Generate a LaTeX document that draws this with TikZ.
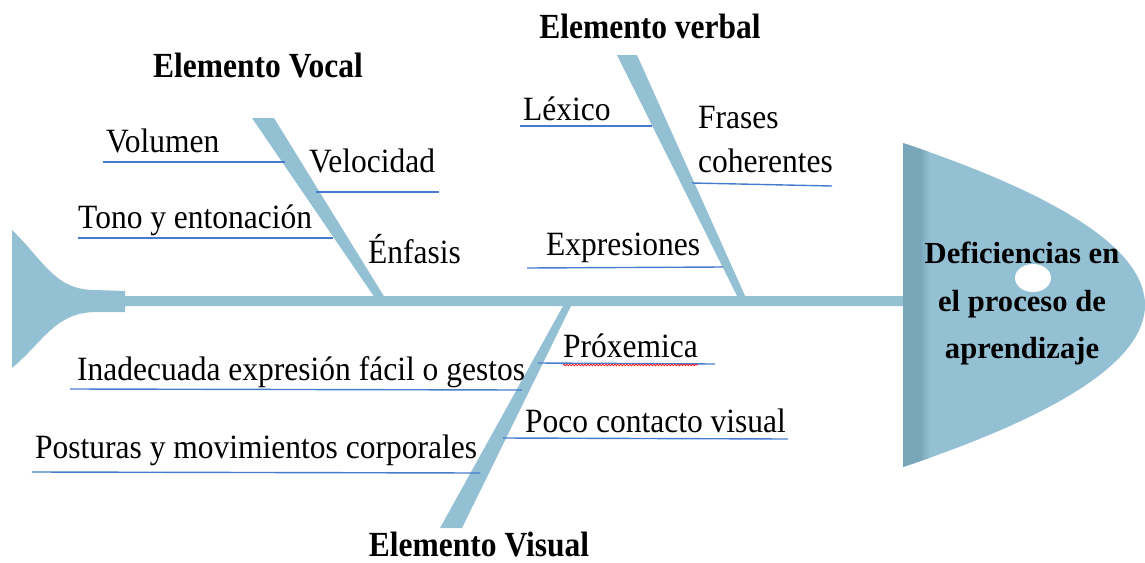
\documentclass[tikz,border=0pt]{standalone}
\usepackage{fontspec}
\setmainfont{Liberation Serif}
\usetikzlibrary{decorations.pathmorphing}
\definecolor{fishblue}{RGB}{148,192,212}
\definecolor{finblue}{RGB}{122,166,186}
\definecolor{lineblue}{RGB}{70,124,206}

\begin{document}
\begin{tikzpicture}[x=1pt,y=-1pt,
        bone/.style={fill=fishblue,draw=none},
        cause/.style={draw=lineblue,line width=1.4pt},
        lbl/.style={anchor=base west,inner sep=0pt,yscale=1.08,transform shape,
                font=\fontsize{31.5}{36}\selectfont},
        ttl/.style={anchor=base,inner sep=0pt,yscale=1.12,transform shape,
                font=\fontsize{31.5}{36}\selectfont\bfseries},
        head/.style={anchor=base,inner sep=0pt,
                font=\fontsize{30.6}{36}\selectfont\bfseries}]
    \useasboundingbox (0,0) rectangle (1145,562);

    % tail and spine
    \fill[bone] (12,230) .. controls (45,262) and (55,290) .. (95,290)
        -- (125,291) -- (125,296) -- (905,296) -- (905,306) -- (125,306)
        -- (125,312) -- (95,312) .. controls (55,313) and (45,340) .. (12,368)
        -- cycle;

    % head
    \fill[bone] (903,143) .. controls (1064,197) and (1145,251) .. (1145,305)
        .. controls (1145,359) and (1064,413) .. (903,467) -- cycle;
    \begin{scope}
        \clip (903,143) .. controls (1064,197) and (1145,251) .. (1145,305)
            .. controls (1145,359) and (1064,413) .. (903,467) -- cycle;
        \fill[finblue] (903,130) rectangle (920,480);
        \shade[left color=finblue,right color=fishblue] (920,130) rectangle (930,480);
    \end{scope}
    \fill[white] (1033,278) ellipse [x radius=18pt,y radius=14pt];
    \node[head] (efecto1) at (1022,263) {Deficiencias en};
    \node[head] (efecto2) at (1022,311) {el proceso de};
    \node[head] (efecto3) at (1022,358) {aprendizaje};

    % bones
    \fill[bone] (252,118) -- (274,118) -- (385,298) -- (375,298) -- cycle;
    \fill[bone] (617,55) -- (637,55) -- (746,298) -- (738,298) -- cycle;
    \fill[bone] (563,306) -- (571,306) -- (462,528) -- (440,528) -- cycle;

    % titles
    \node[ttl] (tVocal) at (258,77) {Elemento Vocal};
    \node[ttl] (tVerbal) at (650,38) {Elemento verbal};
    \node[ttl] (tVisual) at (479,556) {Elemento Visual};

    % vocal causes
    \node[lbl] (vol) at (106,152) {Volumen};
    \node[lbl] (vel) at (309,172) {Velocidad};
    \node[lbl] (tono) at (78,228) {Tono y entonación};
    \node[lbl] (enf) at (368,263) {Énfasis};
    \coordinate (vol1) at (103,162);  \coordinate (vol2) at (285,162);
    \coordinate (vel1) at (316,192);  \coordinate (vel2) at (439,192);
    \coordinate (tono1) at (78,238);  \coordinate (tono2) at (333,238);
    \draw[cause] (vol1) -- (vol2);
    \draw[cause] (vel1) -- (vel2);
    \draw[cause] (tono1) -- (tono2);

    % verbal causes
    \node[lbl] (lex) at (523,120) {Léxico};
    \node[lbl] (fra) at (698,128) {Frases};
    \node[lbl] (coh) at (698,172) {coherentes};
    \node[lbl] (expr) at (546,255) {Expresiones};
    \coordinate (lex1) at (520,126);  \coordinate (lex2) at (652,126);
    \coordinate (coh1) at (692,183);  \coordinate (coh2) at (832,186);
    \coordinate (expr1) at (527,268); \coordinate (expr2) at (723,267);
    \draw[cause] (lex1) -- (lex2);
    \draw[cause] (coh1) -- (coh2);
    \draw[cause] (expr1) -- (expr2);

    % visual causes
    \node[lbl] (prox) at (563,357) {Próxemica};
    \node[lbl] (inad) at (77,380) {Inadecuada expresión fácil o gestos};
    \node[lbl] (poco) at (525,432) {Poco contacto visual};
    \node[lbl] (post) at (35,458) {Posturas y movimientos corporales};
    \coordinate (prox1) at (538,363); \coordinate (prox2) at (715,364);
    \coordinate (inad1) at (70,389);  \coordinate (inad2) at (522,390);
    \coordinate (poco1) at (503,438); \coordinate (poco2) at (788,439);
    \coordinate (post1) at (32,472);  \coordinate (post2) at (480,473);
    \draw[cause] (prox1) -- (prox2);
    \draw[cause] (inad1) -- (inad2);
    \draw[cause] (poco1) -- (poco2);
    \draw[cause] (post1) -- (post2);
    \draw[red,line width=0.7pt,decorate,
        decoration={snake,amplitude=0.8pt,segment length=3pt}]
        ([yshift=-8pt]prox.base west) -- ([yshift=-8pt]prox.base east);
\end{tikzpicture}
\end{document}
